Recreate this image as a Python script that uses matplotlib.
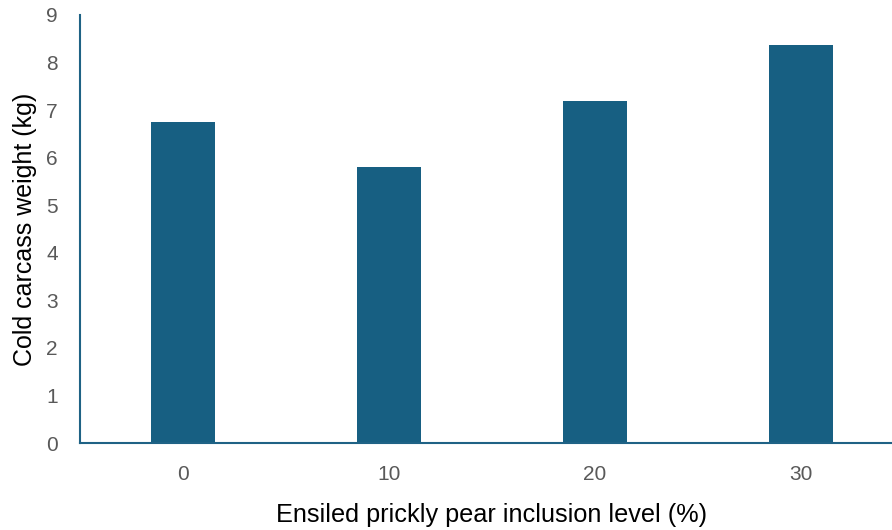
import matplotlib.pyplot as plt
import numpy as np

plt.rcParams['font.family'] = ['Liberation Sans', 'DejaVu Sans']

# inclusion levels and cold carcass weights
levels = ['0', '10', '20', '30']
weights = [6.75, 5.81, 7.19, 8.36]

bar_color = '#175f82'
spine_color = '#1f6285'
tick_color = '#595959'

fig = plt.figure(figsize=(8.92, 5.30), dpi=100)
# axes run a little past the right edge, as in the original
ax = fig.add_axes([0.0897, 0.164, 0.9237, 0.808])

x = np.arange(len(levels))
ax.bar(x, weights, width=0.31, color=bar_color)

ax.set_xlim(-0.5, len(levels) - 0.5)
ax.set_ylim(0, 9)
ax.set_yticks(range(0, 10))
ax.set_xticks(x)
ax.set_xticklabels(levels)

for s in ['top', 'right']:
    ax.spines[s].set_visible(False)
for s in ['left', 'bottom']:
    ax.spines[s].set_color(spine_color)
    ax.spines[s].set_linewidth(1.5)

ax.tick_params(axis='both', length=0, labelsize=15, labelcolor=tick_color)
ax.tick_params(axis='y', pad=16)
ax.tick_params(axis='x', pad=16)

ax.set_xlabel('Ensiled prickly pear inclusion level (%)', fontsize=18.2, labelpad=13.5)
ax.set_ylabel('Cold carcass weight (kg)', fontsize=18, labelpad=6.5)

fig.savefig('out.png', dpi=100)
